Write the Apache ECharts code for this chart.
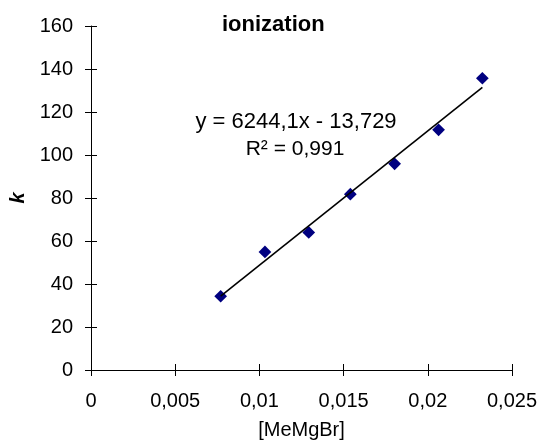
<!DOCTYPE html>
<html>
<head>
<meta charset="utf-8">
<script src="https://cdn.jsdelivr.net/npm/echarts@6/dist/echarts.min.js"></script>
<style>
html,body{margin:0;padding:0;background:#fff;}
#chart{width:543px;height:446px;}
</style>
</head>
<body>
<div id="chart"></div>
<script>
// Data
const concentrations = [0.0077, 0.01033, 0.01293, 0.0154, 0.01803, 0.02064, 0.02324];
const kValues = [34.3, 54.9, 64.0, 81.8, 95.9, 111.7, 135.7];
// Trendline end points (as drawn in reference)
const trendX = [0.0077, 0.02324];
const trendY = [34.35, 131.4];
const xTickLabels = ['0', '0,005', '0,01', '0,015', '0,02', '0,025'];
const yTickLabels = ['0', '20', '40', '60', '80', '100', '120', '140', '160'];
const titleText = 'ionization';
const equationText = 'y = 6244,1x - 13,729';
const r2Text = 'R\u00B2 = 0,991';
const xName = '[MeMgBr]';
const yName = 'k';

const FONT = '"Liberation Sans", Arial, sans-serif';
const chart = echarts.init(document.getElementById('chart'), null, {renderer: 'canvas'});

const scatterData = concentrations.map((x, i) => [x, kValues[i]]);
const trendData = trendX.map((x, i) => [x, trendY[i]]);

const xStep = 0.005, yStep = 20;
const baseX = {
  type: 'value', min: 0, max: 0.025, interval: xStep,
  splitLine: {show: false}
};
const baseY = {
  type: 'value', min: 0, max: 160, interval: yStep,
  splitLine: {show: false}
};

chart.setOption({
  backgroundColor: '#fff',
  animation: false,
  title: {
    text: titleText, left: 222, top: 14, padding: 0,
    textStyle: {fontFamily: FONT, fontSize: 22, fontWeight: 'bold', color: '#000'}
  },
  grid: {left: 90, right: 31, top: 26, bottom: 76, containLabel: false},
  xAxis: [
    Object.assign({}, baseX, {
      position: 'bottom',
      name: xName, nameLocation: 'middle', nameGap: 50,
      nameTextStyle: {fontFamily: FONT, fontSize: 20, color: '#000'},
      axisLine: {show: true, onZero: true, onZeroAxisIndex: 0, lineStyle: {color: '#000', width: 1}},
      axisTick: {show: true, inside: false, length: 6, lineStyle: {color: '#000', width: 1}},
      axisLabel: {
        show: true, margin: 21, color: '#000', fontFamily: FONT, fontSize: 20,
        formatter: v => xTickLabels[Math.round(v / xStep)] ?? ''
      }
    }),
    Object.assign({}, baseX, {
      position: 'top',
      axisLine: {show: true, onZero: true, onZeroAxisIndex: 1, lineStyle: {color: '#000', opacity: 0}},
      axisTick: {show: true, inside: false, length: 6, lineStyle: {color: '#000', width: 1}},
      axisLabel: {show: false}
    })
  ],
  yAxis: [
    Object.assign({}, baseY, {
      position: 'left',
      name: yName, nameLocation: 'middle', nameGap: 63, nameRotate: 90,
      nameTextStyle: {fontFamily: FONT, fontSize: 20, fontWeight: 'bold', fontStyle: 'italic', color: '#000'},
      axisLine: {show: true, onZero: true, onZeroAxisIndex: 0, lineStyle: {color: '#000', width: 1}},
      axisTick: {show: true, inside: false, length: 6, lineStyle: {color: '#000', width: 1}},
      axisLabel: {
        show: true, margin: 18, color: '#000', fontFamily: FONT, fontSize: 20,
        formatter: v => yTickLabels[Math.round(v / yStep)] ?? ''
      }
    }),
    Object.assign({}, baseY, {
      position: 'right',
      axisLine: {show: true, onZero: true, onZeroAxisIndex: 1, lineStyle: {color: '#000', opacity: 0}},
      axisTick: {show: true, inside: false, length: 6, lineStyle: {color: '#000', width: 1}},
      axisLabel: {show: false}
    })
  ],
  graphic: [
    {type: 'text', x: 296, y: 122, z: 100,
     style: {text: equationText, align: 'center', verticalAlign: 'middle', font: '22px ' + FONT, fill: '#000'}},
    {type: 'text', x: 295, y: 149, z: 100,
     style: {text: r2Text, align: 'center', verticalAlign: 'middle', font: '21px ' + FONT, fill: '#000'}}
  ],
  series: [
    {
      type: 'scatter', xAxisIndex: 0, yAxisIndex: 0, data: scatterData,
      symbol: 'rect', symbolSize: 9, symbolRotate: 45,
      itemStyle: {color: '#000080', opacity: 1}, z: 2
    },
    {
      type: 'line', xAxisIndex: 0, yAxisIndex: 0, data: trendData,
      symbol: 'none', lineStyle: {color: '#000', width: 1.6}, z: 3
    }
  ]
});
</script>
</body>
</html>
